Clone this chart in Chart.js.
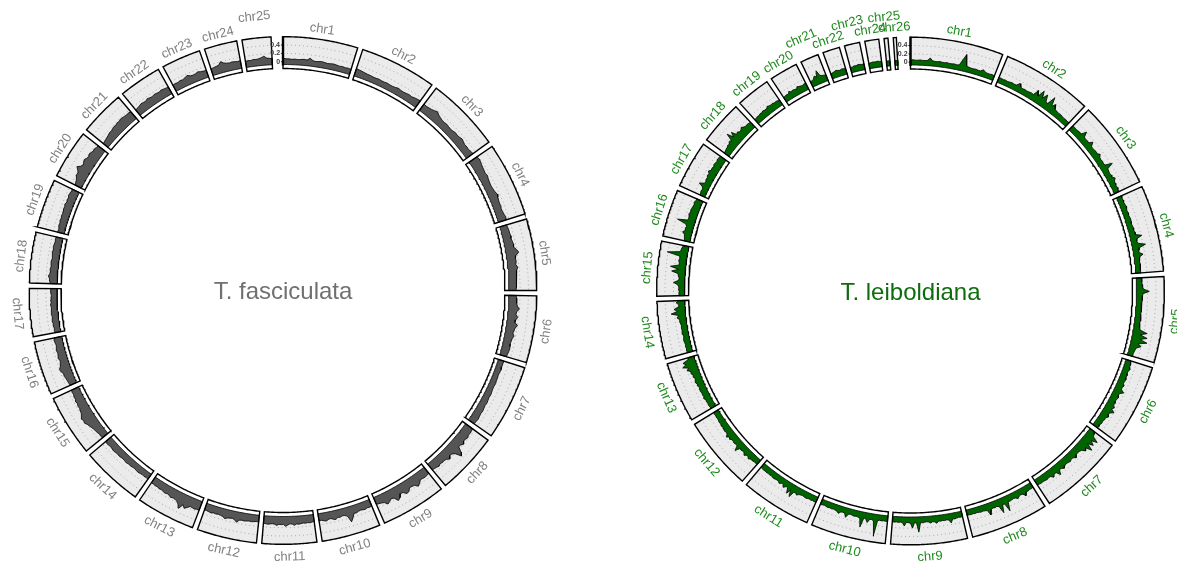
<!DOCTYPE html>
<html><head><meta charset="utf-8">
<script src="https://cdn.jsdelivr.net/npm/chart.js@4.4.1/dist/chart.umd.min.js"></script>
<style>html,body{margin:0;padding:0;background:#fff;overflow:hidden}#wrap{width:1177px;height:565px;position:relative}</style>
</head><body><div id="wrap"><canvas id="c" width="1177" height="565"></canvas></div>
<script>
// ---------- DATA ----------
const tickValues = [0, 0.2, 0.4];

const fasNames = ["chr1","chr2","chr3","chr4","chr5","chr6","chr7","chr8","chr9","chr10","chr11","chr12","chr13","chr14","chr15","chr16","chr17","chr18","chr19","chr20","chr21","chr22","chr23","chr24","chr25"];
const fasLengths = [44.5,45.8,44.5,44.2,42.6,39.8,44.7,36.7,39.0,35.1,32.5,35.6,35.1,36.4,36.4,32.0,28.6,30.2,29.1,29.1,26.8,25.5,23.4,19.5,17.2];
const fasDensity = [
 [0.08,0.07,0.07,0.06,0.07,0.06,0.07,0.08,0.07,0.12,0.07,0.06,0.07,0.08,0.07,0.06,0.07,0.08,0.07,0.06,0.07,0.06,0.07,0.06],
 [0.12,0.11,0.1,0.09,0.08,0.08,0.07,0.07,0.08,0.07,0.07,0.08,0.07,0.07,0.08,0.1,0.08,0.08,0.09,0.1,0.09,0.11,0.12,0.13],
 [0.12,0.11,0.12,0.13,0.15,0.18,0.14,0.12,0.1,0.1,0.11,0.1,0.09,0.1,0.12,0.11,0.12,0.14,0.12,0.1,0.11,0.1,0.12,0.13],
 [0.16,0.18,0.17,0.15,0.14,0.13,0.12,0.14,0.12,0.11,0.1,0.1,0.11,0.12,0.15,0.13,0.12,0.11,0.12,0.1,0.11,0.12,0.14,0.13],
 [0.1,0.11,0.12,0.12,0.13,0.12,0.14,0.15,0.14,0.2,0.24,0.16,0.14,0.15,0.13,0.17,0.14,0.12,0.13,0.12,0.11,0.12,0.11,0.1],
 [0.1,0.12,0.13,0.12,0.15,0.2,0.14,0.13,0.18,0.14,0.13,0.2,0.15,0.14,0.12,0.16,0.13,0.12,0.11,0.12,0.13,0.12,0.11,0.1],
 [0.08,0.07,0.07,0.08,0.07,0.06,0.07,0.07,0.08,0.07,0.07,0.08,0.09,0.08,0.09,0.1,0.09,0.1,0.11,0.1,0.11,0.12,0.11,0.1],
 [0.14,0.15,0.16,0.15,0.18,0.16,0.15,0.2,0.16,0.15,0.28,0.35,0.2,0.15,0.14,0.2,0.15,0.13,0.14,0.12,0.15,0.13,0.12,0.11],
 [0.12,0.13,0.14,0.13,0.12,0.18,0.22,0.15,0.14,0.13,0.2,0.22,0.15,0.14,0.22,0.26,0.16,0.14,0.18,0.22,0.15,0.13,0.12,0.11],
 [0.1,0.11,0.1,0.12,0.11,0.1,0.11,0.13,0.12,0.22,0.3,0.14,0.11,0.1,0.12,0.11,0.15,0.13,0.1,0.11,0.14,0.12,0.1,0.11],
 [0.1,0.11,0.12,0.11,0.12,0.11,0.12,0.13,0.12,0.15,0.12,0.11,0.14,0.17,0.12,0.13,0.12,0.15,0.12,0.11,0.12,0.13,0.12,0.11],
 [0.1,0.09,0.1,0.11,0.1,0.11,0.12,0.11,0.12,0.18,0.13,0.11,0.12,0.13,0.16,0.12,0.11,0.1,0.11,0.1,0.12,0.11,0.1,0.1],
 [0.16,0.15,0.17,0.16,0.15,0.2,0.25,0.18,0.3,0.22,0.17,0.15,0.14,0.16,0.13,0.12,0.14,0.12,0.11,0.12,0.1,0.11,0.1,0.1],
 [0.08,0.07,0.08,0.07,0.08,0.09,0.08,0.07,0.08,0.09,0.08,0.1,0.09,0.08,0.09,0.1,0.09,0.1,0.11,0.1,0.09,0.1,0.11,0.1],
 [0.1,0.11,0.1,0.12,0.13,0.14,0.16,0.18,0.2,0.24,0.22,0.25,0.2,0.18,0.17,0.15,0.16,0.14,0.15,0.13,0.14,0.12,0.13,0.12],
 [0.1,0.11,0.12,0.13,0.15,0.14,0.18,0.2,0.15,0.13,0.12,0.14,0.13,0.12,0.13,0.12,0.11,0.12,0.13,0.12],
 [0.07,0.08,0.07,0.09,0.08,0.1,0.09,0.08,0.1,0.09,0.08,0.09,0.1,0.08,0.09,0.08,0.07,0.08,0.09,0.08],
 [0.1,0.11,0.12,0.15,0.12,0.11,0.12,0.1,0.11,0.12,0.1,0.11,0.12,0.11,0.1,0.12,0.11,0.1,0.11,0.1],
 [0.1,0.09,0.1,0.11,0.1,0.12,0.11,0.12,0.11,0.12,0.13,0.12,0.14,0.12,0.13,0.12,0.14,0.13,0.12,0.13],
 [0.1,0.12,0.13,0.15,0.2,0.18,0.22,0.28,0.2,0.18,0.2,0.22,0.19,0.17,0.2,0.18,0.16,0.17,0.15,0.14],
 [0.08,0.09,0.1,0.11,0.12,0.14,0.13,0.15,0.16,0.15,0.17,0.16,0.18,0.17,0.16,0.15,0.16,0.14],
 [0.1,0.11,0.12,0.14,0.13,0.12,0.15,0.13,0.12,0.14,0.13,0.12,0.14,0.13,0.12,0.11],
 [0.1,0.11,0.1,0.12,0.11,0.13,0.16,0.12,0.11,0.12,0.14,0.12,0.11,0.1],
 [0.1,0.11,0.12,0.13,0.2,0.15,0.13,0.12,0.13,0.12,0.11,0.12],
 [0.08,0.09,0.08,0.1,0.09,0.1,0.12,0.15,0.1,0.09,0.08]
];

const leiNames = ["chr1","chr2","chr3","chr4","chr5","chr6","chr7","chr8","chr9","chr10","chr11","chr12","chr13","chr14","chr15","chr16","chr17","chr18","chr19","chr20","chr21","chr22","chr23","chr24","chr25","chr26"];
const leiLengths = [76.7,74.9,72.0,71.3,70.9,67.0,69.8,64.1,63.0,61.9,58.3,60.5,49.7,47.2,45.0,38.9,38.9,36.0,28.1,23.4,15.1,14.0,12.6,11.5,3.2,2.5];
const leiDensity = [
 [0.05,0.06,0.05,0.05,0.06,0.05,0.05,0.06,0.12,0.06,0.05,0.05,0.06,0.05,0.05,0.06,0.05,0.05,0.06,0.05,0.06,0.2,0.34,0.08,0.06,0.05,0.05,0.06,0.05,0.05,0.1,0.06,0.05,0.05,0.06,0.05],
 [0.05,0.06,0.05,0.06,0.05,0.06,0.07,0.06,0.07,0.14,0.07,0.06,0.07,0.06,0.07,0.08,0.07,0.22,0.1,0.28,0.12,0.25,0.1,0.08,0.3,0.09,0.18,0.08,0.07,0.06,0.07,0.06,0.05,0.06,0.05,0.06],
 [0.06,0.07,0.06,0.07,0.08,0.07,0.2,0.08,0.07,0.08,0.07,0.16,0.07,0.06,0.07,0.08,0.07,0.12,0.07,0.06,0.07,0.06,0.07,0.24,0.08,0.07,0.06,0.07,0.06,0.12,0.07,0.06,0.05,0.06,0.05,0.06],
 [0.06,0.05,0.06,0.05,0.06,0.07,0.06,0.05,0.06,0.05,0.06,0.07,0.06,0.05,0.06,0.07,0.06,0.08,0.07,0.22,0.08,0.07,0.09,0.26,0.1,0.08,0.07,0.16,0.07,0.06,0.05,0.06,0.05,0.06,0.05,0.06],
 [0.06,0.07,0.06,0.07,0.08,0.1,0.24,0.09,0.08,0.07,0.08,0.07,0.06,0.07,0.06,0.07,0.06,0.07,0.08,0.07,0.06,0.07,0.08,0.1,0.28,0.12,0.3,0.14,0.32,0.12,0.2,0.1,0.08,0.07,0.06,0.07],
 [0.06,0.07,0.08,0.07,0.1,0.08,0.07,0.09,0.08,0.1,0.09,0.08,0.12,0.09,0.1,0.18,0.1,0.09,0.12,0.1,0.09,0.11,0.1,0.15,0.1,0.2,0.12,0.1,0.14,0.09,0.1,0.08,0.09,0.07,0.08,0.07],
 [0.08,0.1,0.12,0.28,0.14,0.25,0.12,0.3,0.15,0.2,0.12,0.1,0.09,0.1,0.15,0.1,0.09,0.12,0.1,0.09,0.1,0.14,0.1,0.09,0.2,0.1,0.09,0.15,0.09,0.08,0.1,0.09,0.08,0.09,0.08,0.07],
 [0.06,0.07,0.06,0.08,0.07,0.15,0.08,0.07,0.08,0.12,0.08,0.07,0.08,0.09,0.08,0.3,0.1,0.09,0.28,0.1,0.08,0.09,0.08,0.1,0.22,0.09,0.08,0.07,0.08,0.07,0.06,0.07,0.06,0.07,0.06,0.07],
 [0.06,0.07,0.06,0.07,0.08,0.07,0.16,0.08,0.07,0.08,0.07,0.08,0.07,0.12,0.08,0.07,0.1,0.07,0.06,0.07,0.08,0.07,0.3,0.08,0.07,0.2,0.08,0.07,0.06,0.15,0.07,0.06,0.07,0.06,0.07,0.06],
 [0.06,0.07,0.06,0.07,0.06,0.08,0.46,0.1,0.07,0.08,0.16,0.08,0.07,0.3,0.09,0.08,0.07,0.08,0.07,0.06,0.07,0.16,0.07,0.06,0.07,0.12,0.08,0.07,0.06,0.07,0.06,0.07,0.06,0.05,0.06,0.07],
 [0.06,0.07,0.06,0.07,0.06,0.07,0.08,0.07,0.06,0.07,0.08,0.12,0.08,0.1,0.24,0.09,0.2,0.08,0.07,0.12,0.07,0.06,0.1,0.07,0.06,0.07,0.08,0.07,0.06,0.07,0.06,0.07,0.06,0.07,0.06,0.05],
 [0.06,0.07,0.06,0.08,0.07,0.1,0.08,0.07,0.12,0.08,0.07,0.09,0.08,0.2,0.09,0.08,0.1,0.09,0.08,0.12,0.09,0.15,0.09,0.08,0.1,0.08,0.07,0.09,0.07,0.08,0.07,0.06,0.07,0.06,0.07,0.06],
 [0.06,0.07,0.08,0.07,0.08,0.07,0.1,0.08,0.09,0.08,0.1,0.09,0.08,0.1,0.09,0.12,0.1,0.09,0.12,0.1,0.14,0.12,0.2,0.15,0.28,0.18,0.24,0.1,0.08],
 [0.06,0.07,0.06,0.07,0.06,0.07,0.08,0.07,0.06,0.07,0.08,0.07,0.08,0.07,0.08,0.1,0.09,0.15,0.1,0.28,0.12,0.2,0.1,0.08,0.14,0.08],
 [0.06,0.07,0.06,0.08,0.07,0.1,0.2,0.08,0.07,0.09,0.1,0.26,0.1,0.3,0.09,0.1,0.12,0.1,0.11,0.42,0.12,0.1,0.09,0.08],
 [0.07,0.08,0.1,0.09,0.16,0.1,0.12,0.1,0.14,0.36,0.12,0.11,0.12,0.14,0.12,0.13,0.12,0.11,0.1,0.12,0.1,0.09],
 [0.06,0.07,0.08,0.07,0.09,0.2,0.09,0.08,0.1,0.09,0.12,0.1,0.15,0.1,0.11,0.1,0.12,0.11,0.1,0.12,0.11,0.1],
 [0.07,0.08,0.09,0.1,0.12,0.1,0.15,0.12,0.3,0.14,0.25,0.12,0.15,0.11,0.12,0.16,0.12,0.1,0.11,0.1,0.09],
 [0.06,0.07,0.08,0.07,0.09,0.08,0.1,0.08,0.09,0.12,0.1,0.09,0.1,0.08,0.09,0.08,0.07],
 [0.06,0.07,0.08,0.07,0.12,0.08,0.1,0.09,0.08,0.12,0.1,0.09,0.08,0.1,0.09],
 [0.07,0.08,0.1,0.16,0.12,0.26,0.12,0.1,0.09,0.08],
 [0.06,0.07,0.08,0.1,0.08,0.07,0.09,0.08,0.07],
 [0.07,0.06,0.08,0.07,0.09,0.08,0.07,0.08],
 [0.06,0.07,0.08,0.07,0.08,0.07,0.06],
 [0.05,0.06,0.05],
 [0.05,0.05]
];
const fasLabelLift = [24];
const leiLabelLift = [20, 22, 24];

// ---------- LAYOUT ----------
const G = {rIn:222, rBand:226, rZero:228.8, unit:41.7, yMax:0.6, gap:1.2, labelR:264, labelRBottom:266.5, lift:11};
G.rOut = G.rZero + G.yMax * G.unit;
const rOf = v => G.rZero + v * G.unit;
const FONT = '"Liberation Sans", Arial, Helvetica, sans-serif';

const plots = [
  {names:fasNames, len:fasLengths, dens:fasDensity, lift:fasLabelLift, cx:283, cy:290.5, endGap:2.7,
   area:'#555555', label:'#808080', title:'T. fasciculata', titleColor:'#707070'},
  {names:leiNames, len:leiLengths, dens:leiDensity, lift:leiLabelLift, cx:910.5, cy:291, endGap:3.2,
   area:'#006400', label:'#1e8a1e', title:'T. leiboldiana', titleColor:'#0d6d0d'}
];

function sectors(p){
  const n = p.len.length, total = p.len.reduce((a,b)=>a+b,0);
  const k = (360 - (n-1)*G.gap - p.endGap) / total;
  let a = 0; const out = [];
  for (let i=0;i<n;i++){ const w = p.len[i]*k; out.push({a0:a, a1:a+w}); a += w + G.gap; }
  return out;
}
function P(p,r,deg){ const t = deg*Math.PI/180; return {x:p.cx + r*Math.sin(t), y:p.cy - r*Math.cos(t)}; }
function arc(p,r,a0,a1){
  const n = Math.max(2, Math.ceil(Math.abs(a1-a0)/0.4)+1), pts=[];
  for (let i=0;i<n;i++) pts.push(P(p,r,a0+(a1-a0)*i/(n-1)));
  return pts;
}

const datasets = [];
plots.forEach(p=>{
  p.sec = sectors(p);
  p.sec.forEach((s,i)=>{
    const bg = [...arc(p,G.rOut,s.a0,s.a1), ...arc(p,G.rBand,s.a1,s.a0)];
    datasets.push({data:bg, fill:'shape', backgroundColor:'#ebebeb', borderWidth:0, borderColor:'rgba(0,0,0,0)', order:50});
    tickValues.filter(v=>v>0).forEach(v=>{
      datasets.push({data:arc(p,rOf(v),s.a0,s.a1), fill:false, borderColor:'#aaaaaa', borderWidth:1, borderDash:[1,3], order:40});
    });
    const vals = p.dens[i], m = vals.length;
    const area = [P(p,G.rBand,s.a0)];
    vals.forEach((v,j)=>area.push(P(p,rOf(v), s.a0 + (s.a1-s.a0)*j/(m-1))));
    area.push(P(p,G.rBand,s.a1), ...arc(p,G.rBand,s.a1,s.a0));
    datasets.push({data:area, fill:'shape', backgroundColor:p.area, borderColor:'#000', borderWidth:0.8, order:30});
    const outline = [...arc(p,G.rOut,s.a0,s.a1), ...arc(p,G.rIn,s.a1,s.a0)];
    outline.push(outline[0], outline[1]);
    datasets.push({data:outline, fill:false, borderColor:'#000', borderWidth:1.4, borderJoinStyle:'miter', order:20});
  });
  const a0 = p.sec[0].a0;
  datasets.push({data:[P(p,G.rBand-1,a0), P(p,G.rOut+0.6,a0)], fill:false, borderColor:'#000', borderWidth:2.4, order:10});
  tickValues.forEach(v=>{
    datasets.push({data:[P(p,rOf(v),a0), P(p,rOf(v),a0-0.5)], fill:false, borderColor:'#000', borderWidth:0.8, order:10});
  });
});

const textPlugin = {
  id:'circosText',
  afterDatasetsDraw(chart){
    const ctx = chart.ctx;
    plots.forEach(p=>{
      ctx.save();
      ctx.fillStyle = p.titleColor; ctx.font = '24px ' + FONT;
      ctx.textAlign = 'center'; ctx.textBaseline = 'middle';
      ctx.fillText(p.title, p.cx, p.cy + 2);
      ctx.fillStyle = p.label; ctx.font = '13px ' + FONT;
      p.sec.forEach((s,i)=>{
        const th = (s.a0 + s.a1)/2;
        const bottom = th > 90 && th < 270;
        const r = (bottom ? G.labelRBottom : G.labelR) + (p.lift.includes(i) ? G.lift : 0);
        const q = P(p,r,th);
        ctx.save(); ctx.translate(q.x,q.y);
        ctx.rotate((bottom ? th-180 : th)*Math.PI/180);
        ctx.fillText(p.names[i], 0, 0);
        ctx.restore();
      });
      const a0 = p.sec[0].a0;
      ctx.fillStyle = '#3a3a3a'; ctx.font = 'bold 7px ' + FONT; ctx.textAlign = 'right';
      tickValues.forEach(v=>{
        const q = P(p,rOf(v),a0-0.7);
        ctx.fillText(v===0 ? '0' : v.toFixed(1), q.x, q.y);
      });
      ctx.restore();
    });
  }
};

new Chart(document.getElementById('c'), {
  type:'line',
  data:{datasets},
  options:{
    responsive:false, animation:false, devicePixelRatio:1, events:[],
    layout:{padding:0},
    elements:{point:{radius:0}, line:{tension:0}},
    scales:{
      x:{type:'linear', min:0, max:1177, display:false},
      y:{type:'linear', min:0, max:565, reverse:true, display:false}
    },
    plugins:{legend:{display:false}, tooltip:{enabled:false}}
  },
  plugins:[textPlugin]
});
</script></body></html>
